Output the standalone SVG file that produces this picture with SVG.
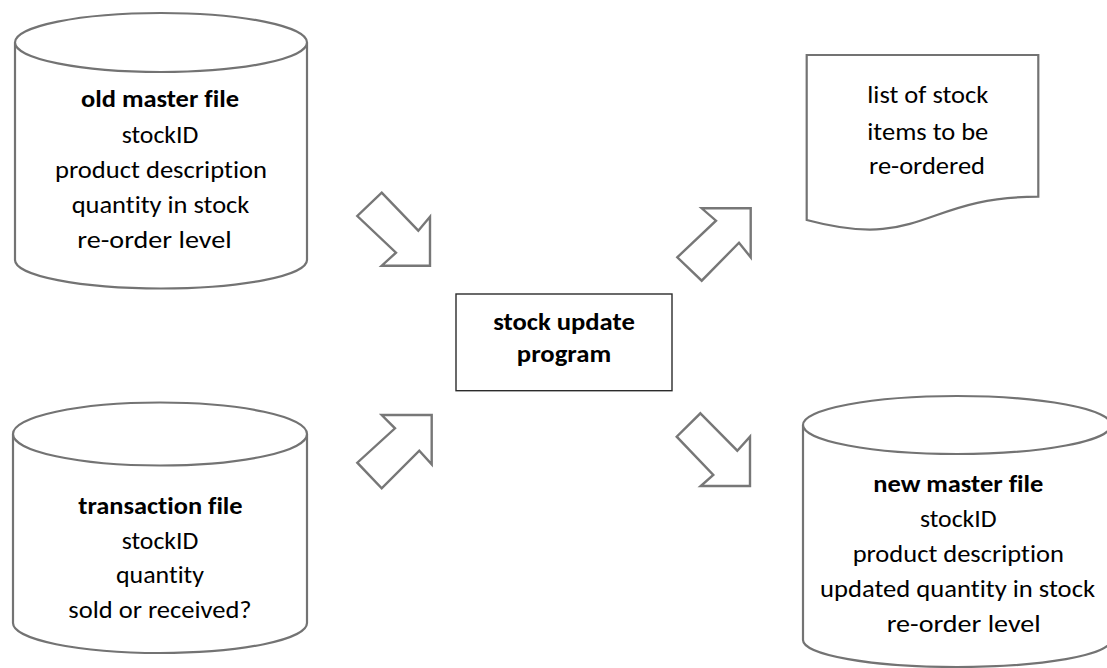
<svg xmlns="http://www.w3.org/2000/svg" width="1107" height="668" viewBox="0 0 1107 668">
<style>
.shape{fill:#ffffff;stroke:#737373;stroke-width:2.2;stroke-linejoin:miter}
.box{fill:#ffffff;stroke:#2b2b2b;stroke-width:1.4}
.arrow{fill:#ffffff;stroke:#777777;stroke-width:2.4;stroke-linejoin:miter}
text{font-family:Carlito,Calibri,Lato,"Open Sans",sans-serif;font-size:25px;fill:#000000;text-anchor:middle;font-variant-ligatures:none;font-feature-settings:"liga" 0,"clig" 0,"dlig" 0}
.b{font-weight:bold}
</style>
<rect x="0" y="0" width="1107" height="668" fill="#ffffff"/>

<g id="old-master-file">
  <path class="shape" d="M15,42.5 V260 A146,28.5 0 0 0 307,260 V42.5"/>
  <ellipse class="shape" cx="161" cy="42.5" rx="146" ry="29.5"/>
  <text class="b" x="160" y="107.3" textLength="158" lengthAdjust="spacingAndGlyphs">old master file</text>
  <text x="160" y="143.3" textLength="76.7" lengthAdjust="spacingAndGlyphs">stockID</text>
  <text x="161" y="178.3" textLength="212" lengthAdjust="spacingAndGlyphs">product description</text>
  <text x="160.5" y="213.3" textLength="177.7" lengthAdjust="spacingAndGlyphs">quantity in stock</text>
  <text x="154.5" y="248.3" textLength="154.4" lengthAdjust="spacingAndGlyphs">re-order level</text>
</g>

<g id="transaction-file">
  <path class="shape" d="M13,434 V623 A147,30 0 0 0 307,623 V434"/>
  <ellipse class="shape" cx="160" cy="434" rx="147" ry="31.5"/>
  <text class="b" x="160.5" y="514" textLength="164.3" lengthAdjust="spacingAndGlyphs">transaction file</text>
  <text x="160" y="549.3" textLength="76.7" lengthAdjust="spacingAndGlyphs">stockID</text>
  <text x="160" y="582.7" textLength="88" lengthAdjust="spacingAndGlyphs">quantity</text>
  <text x="160" y="618.3" textLength="183.3" lengthAdjust="spacingAndGlyphs">sold or received?</text>
</g>

<g id="stock-update-program">
  <rect class="box" x="456" y="294" width="216" height="96.7"/>
  <text class="b" x="564" y="330" textLength="141.7" lengthAdjust="spacingAndGlyphs">stock update</text>
  <text class="b" x="564" y="361.7" textLength="94.3" lengthAdjust="spacingAndGlyphs">program</text>
</g>

<g id="reorder-list">
  <path class="shape" d="M806.7,55 H1038.3 V196.7 C922.5,196.7 922.5,251 806.7,220 Z"/>
  <text x="927.8" y="103.3" textLength="121" lengthAdjust="spacingAndGlyphs">list of stock</text>
  <text x="927.8" y="140" textLength="121" lengthAdjust="spacingAndGlyphs">items to be</text>
  <text x="927" y="174" textLength="116" lengthAdjust="spacingAndGlyphs">re-ordered</text>
</g>

<g id="new-master-file">
  <path class="shape" d="M803,425 V640 A154,27 0 0 0 1111,640 V425"/>
  <ellipse class="shape" cx="957" cy="425" rx="154" ry="29"/>
  <text class="b" x="958.3" y="491.7" textLength="170" lengthAdjust="spacingAndGlyphs">new master file</text>
  <text x="958.3" y="526.7" textLength="76.7" lengthAdjust="spacingAndGlyphs">stockID</text>
  <text x="958.3" y="561.7" textLength="211.3" lengthAdjust="spacingAndGlyphs">product description</text>
  <text x="957.5" y="596.7" textLength="275" lengthAdjust="spacingAndGlyphs">updated quantity in stock</text>
  <text x="963.7" y="631.7" textLength="154" lengthAdjust="spacingAndGlyphs">re-order level</text>
</g>

<g id="connectors">
  <polygon class="arrow" points="381.7,192.7 418.3,230.7 430,216.7 430,265.7 381.7,265.7 396,252.7 357.3,216"/>
  <polygon class="arrow" points="431.7,415 381.7,415 395,428.3 357.3,462.7 381.7,488.3 419.3,450.7 431.7,464.3"/>
  <polygon class="arrow" points="750.7,208.3 701.7,208.3 716,220.7 677.3,257.3 701.7,280.7 739,242.7 750.7,257.3"/>
  <polygon class="arrow" points="700.4,413.3 737.3,450.7 750,436.7 750,486 700.7,486 713.3,475 676.7,436.7"/>
</g>
</svg>
